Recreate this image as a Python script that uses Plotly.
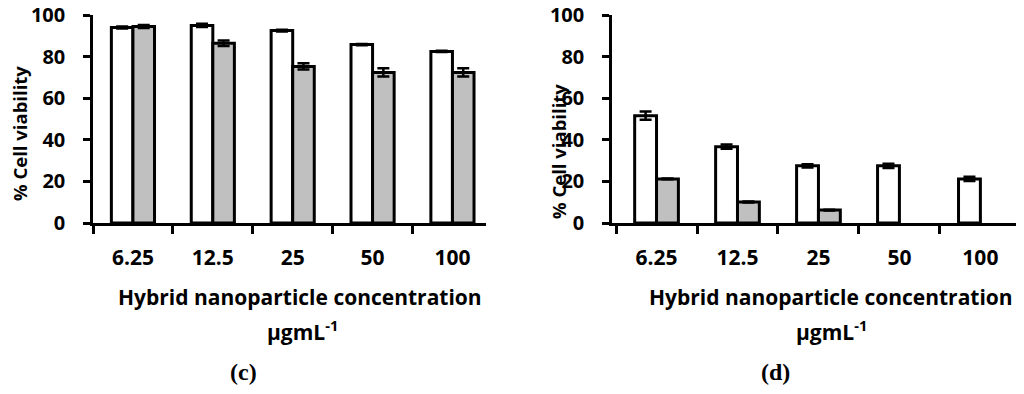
import plotly.graph_objects as go

categories = ["6.25", "12.5", "25", "50", "100"]

# panel (c)
c_white = [94.0, 95.0, 92.5, 85.8, 82.5]
c_white_err = [0.5, 0.8, 0.4, 0.3, 0.3]
c_gray = [94.5, 86.4, 75.3, 72.4, 72.4]
c_gray_err = [0.7, 1.3, 1.5, 2.0, 2.0]

# panel (d)
d_white = [51.6, 36.7, 27.5, 27.5, 21.2]
d_white_err = [2.0, 1.0, 0.8, 1.0, 1.0]
d_gray = [21.2, 10.1, 6.2, None, None]
d_gray_err = [0.2, 0.2, 0.2, 0, 0]

FONT = "Open Sans"
W, H = 1024, 394


def px_x(p):
    return p / W


def px_y(p):
    return 1 - p / H


fig = go.Figure()


def add_pair(white, werr, gray, gerr, xa, ya):
    fig.add_trace(go.Bar(
        x=categories, y=white, xaxis=xa, yaxis=ya,
        marker=dict(color="white", line=dict(color="black", width=3)),
        error_y=dict(type="data", array=werr, visible=True, color="black",
                     thickness=2.5, width=6),
        showlegend=False))
    fig.add_trace(go.Bar(
        x=categories, y=gray, xaxis=xa, yaxis=ya,
        marker=dict(color="#c0c0c0", line=dict(color="black", width=3)),
        error_y=dict(type="data", array=gerr, visible=True, color="black",
                     thickness=2.5, width=6),
        showlegend=False))


add_pair(c_white, c_white_err, c_gray, c_gray_err, "x", "y")
add_pair(d_white, d_white_err, d_gray, d_gray_err, "x2", "y2")

xtickfont = dict(family=FONT, size=21, color="black", weight="bold")
ytickfont = dict(family=FONT, size=20, color="black", weight="bold")

xcommon = dict(type="category", showline=True, linecolor="black", linewidth=2.5,
               ticks="outside", ticklen=8, tickwidth=2.5, tickcolor="black",
               tickson="boundaries", tickfont=xtickfont, showgrid=False,
               zeroline=False, ticklabelstandoff=14, automargin=False)
ycommon = dict(range=[0, 100], dtick=20, showline=True, linecolor="black",
               linewidth=2.5, ticks="outside", ticklen=7, tickwidth=2.5,
               tickcolor="black", tickfont=ytickfont, showgrid=False,
               zeroline=False, ticklabelstandoff=14, automargin=False,
               ticklabeloverflow="allow")

ydom = [px_y(223), px_y(15)]

fig.update_layout(
    width=W, height=H,
    margin=dict(l=0, r=0, t=0, b=0, pad=0),
    paper_bgcolor="white", plot_bgcolor="white",
    barmode="group", bargap=0.46, bargroupgap=0.0,
    xaxis=dict(domain=[px_x(93), px_x(486)], range=[-0.5, 4.42],
               anchor="y", **xcommon),
    yaxis=dict(domain=ydom, anchor="x", **ycommon),
    xaxis2=dict(domain=[px_x(612), px_x(1016)], range=[-0.55, 4.44],
                anchor="y2", **xcommon),
    yaxis2=dict(domain=ydom, anchor="x2", **ycommon),
)

labfont = dict(family=FONT, size=21, color="black", weight="bold")
ylabfont = dict(family=FONT, size=18.5, color="black", weight="bold")
panfont = dict(family="Liberation Serif", size=24, color="black", weight="bold")

annotations = [
    # panel c
    dict(text="% Cell viability", x=px_x(19), y=px_y(134), textangle=-90,
         font=ylabfont),
    dict(text="Hybrid nanoparticle concentration", x=px_x(300), y=px_y(297),
         font=labfont),
    dict(text="μgmL<sup>-1</sup>", x=px_x(302), y=px_y(330), font=labfont),
    dict(text="(c)", x=px_x(243), y=px_y(372), font=panfont),
    # panel d
    dict(text="% Cell viability", x=px_x(558), y=px_y(152), textangle=-90,
         font=ylabfont),
    dict(text="Hybrid nanoparticle concentration", x=px_x(831), y=px_y(297),
         font=labfont),
    dict(text="μgmL<sup>-1</sup>", x=px_x(831), y=px_y(330), font=labfont),
    dict(text="(d)", x=px_x(775), y=px_y(372), font=panfont),
]
for a in annotations:
    a.update(xref="paper", yref="paper", showarrow=False,
             xanchor="center", yanchor="middle")
fig.update_layout(annotations=annotations)

fig.write_html("out.html",
               config={"displayModeBar": False},
               post_script="document.body.style.margin='0';"
                           "document.body.style.overflow='hidden';")
